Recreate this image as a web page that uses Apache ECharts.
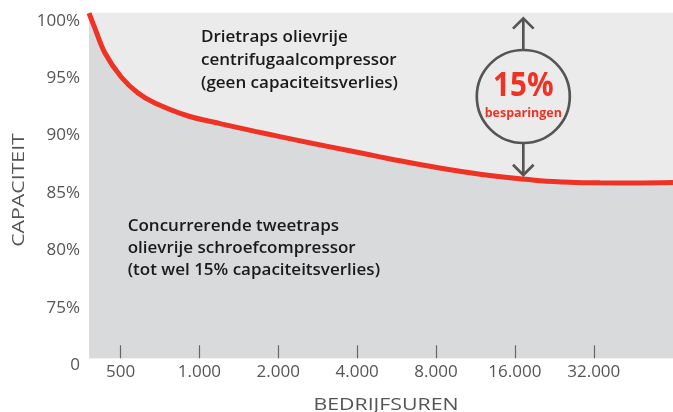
<!DOCTYPE html>
<html><head><meta charset="utf-8">
<script src="https://cdn.jsdelivr.net/npm/echarts@6/dist/echarts.min.js"></script>
<style>html,body{margin:0;padding:0;background:#fff}#c{width:673px;height:412px}</style>
</head><body><div id="c"></div>
<script>
// Operating hours (log axis) and capacity (%) of the competing screw compressor
const hours = [379, 399, 436, 503, 583, 676, 906, 1211, 1631, 2032, 2716, 3662, 4893, 6540, 8816, 11783, 16000, 19960, 25980, 33830, 45200, 64200];
const capacity = [100.67, 99.36, 97.19, 95.10, 93.70, 92.83, 91.70, 91.02, 90.36, 89.90, 89.31, 88.72, 88.14, 87.58, 87.06, 86.63, 86.27, 86.07, 85.94, 85.88, 85.86, 85.90];
const xTickHours = [500, 1000, 2000, 4000, 8000, 16000, 32000];
const yTicks = [70, 75, 80, 85, 90, 95, 100];
const hoursRange = [379, 64200];
const capRange = [70, 100.7];
const plotFloor = 70.59;
const textTop = ['Drietraps olievrije', 'centrifugaalcompressor', '(geen capaciteitsverlies)'];
const textBottom = ['Concurrerende tweetraps', 'olievrije schroefcompressor', '(tot wel 15% capaciteitsverlies)'];
const savingValue = '15%';
const savingLabel = 'besparingen';
const xName = 'BEDRIJFSUREN';
const yName = 'CAPACITEIT';

const RED = '#ee3224';
const GREY = '#555555';
const fmtHours = v => String(Math.round(Math.pow(2, v))).replace(/\B(?=(\d{3})+(?!\d))/g, '.');

const chart = echarts.init(document.getElementById('c'), null, {renderer: 'canvas'});
const cx = 523.3, cy = 96.5, r = 46.5;
chart.setOption({
  animation: false,
  grid: {left: 89, right: 0, top: 12.7, bottom: 46.9, outerBoundsMode: 'none'},
  xAxis: {
    type: 'value',
    z: 10,
    min: Math.log2(hoursRange[0]), max: Math.log2(hoursRange[1]),
    offset: -6.8,
    axisLine: {show: false},
    splitLine: {show: false},
    axisTick: {show: true, inside: true, length: 13, customValues: xTickHours.map(Math.log2), lineStyle: {color: '#666', width: 1.2}},
    axisLabel: {customValues: xTickHours.map(Math.log2), formatter: fmtHours, margin: 5, color: GREY, fontFamily: 'Open Sans', fontSize: 17}
  },
  yAxis: {
    type: 'value',
    min: capRange[0], max: capRange[1],
    axisLine: {show: false},
    axisTick: {show: false},
    splitLine: {show: false},
    axisLabel: {customValues: yTicks, formatter: v => v === 70 ? '0' : v + '%', margin: 9, color: GREY, fontFamily: 'Open Sans', fontSize: 17}
  },
  series: [{
    type: 'line',
    data: hours.map((h, i) => [Math.log2(h), capacity[i]]),
    symbol: 'none',
    smooth: 0.35,
    lineStyle: {color: RED, width: 5},
    areaStyle: {color: '#d9dadc', opacity: 1, origin: plotFloor},
    markArea: {
      silent: true,
      itemStyle: {color: '#ebebeb'},
      data: [[{xAxis: Math.log2(hoursRange[0]), yAxis: plotFloor}, {xAxis: Math.log2(hoursRange[1]), yAxis: capRange[1]}]]
    }
  }],
  graphic: [
    {type: 'text', z: 100, x: 201, y: 26, style: {text: textTop.join('\n'), font: '600 17px "Open Sans"', fill: '#1a1a1a', lineHeight: 22.7, verticalAlign: 'top'}},
    {type: 'text', z: 100, x: 127.7, y: 214.6, style: {text: textBottom.join('\n'), font: '600 17px "Open Sans"', fill: '#1a1a1a', lineHeight: 22.2, verticalAlign: 'top'}},
    {type: 'circle', z: 100, shape: {cx: cx, cy: cy, r: r}, style: {fill: 'none', stroke: GREY, lineWidth: 2.7}},
    {type: 'line', z: 100, shape: {x1: cx, y1: cy - r, x2: cx, y2: 18.3}, style: {stroke: GREY, lineWidth: 2.7}},
    {type: 'polyline', z: 100, shape: {points: [[cx - 10.3, 28.6], [cx, 18.3], [cx + 10.3, 28.6]]}, style: {fill: 'none', stroke: GREY, lineWidth: 2.7}},
    {type: 'line', z: 100, shape: {x1: cx, y1: cy + r, x2: cx, y2: 175}, style: {stroke: GREY, lineWidth: 2.7}},
    {type: 'polyline', z: 100, shape: {points: [[cx - 10.3, 164.7], [cx, 175], [cx + 10.3, 164.7]]}, style: {fill: 'none', stroke: GREY, lineWidth: 2.7}},
    {type: 'text', z: 100, x: cx, y: 86, scaleX: 0.87, style: {text: savingValue, font: 'bold 34px "Open Sans"', fill: RED, align: 'center', verticalAlign: 'middle'}},
    {type: 'text', z: 100, x: cx, y: 113.3, style: {text: savingLabel, font: 'bold 12.5px "Open Sans"', fill: RED, align: 'center', verticalAlign: 'middle'}},
    {type: 'text', z: 100, x: 386, y: 405, scaleX: 1.33, style: {text: xName, font: '16px "Open Sans"', fill: GREY, align: 'center', verticalAlign: 'middle'}},
    {type: 'text', z: 100, x: 19, y: 190, rotation: Math.PI / 2, scaleX: 1.33, style: {text: yName, font: '16px "Open Sans"', fill: GREY, align: 'center', verticalAlign: 'middle'}}
  ]
});
</script>
</body></html>
